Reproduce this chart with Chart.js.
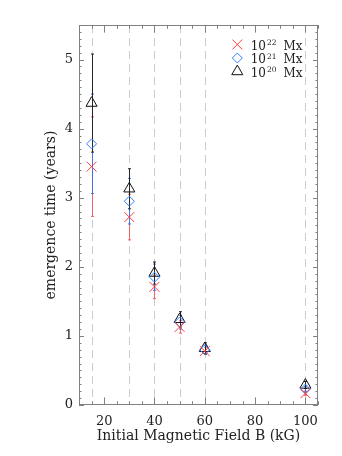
<!DOCTYPE html>
<html>
<head>
<meta charset="utf-8">
<script src="https://cdn.jsdelivr.net/npm/chart.js@4/dist/chart.umd.min.js"></script>
<style>
  html, body { margin: 0; padding: 0; background: #fff; }
</style>
</head>
<body>
<canvas id="chart" width="342" height="456"></canvas>
<script>
// initial magnetic field (kG) of each run
const fieldB = [15, 30, 40, 50, 60, 100];
// emergence time (years) and error for each flux
const time22 = [3.45, 2.72, 1.71, 1.13, 0.78, 0.17];
const err22  = [0.72, 0.33, 0.17, 0.09, 0.05, 0.03];
const time21 = [3.78, 2.95, 1.85, 1.20, 0.80, 0.23];
const err21  = [0.72, 0.33, 0.19, 0.10, 0.06, 0.04];
const time20 = [4.37, 3.13, 1.91, 1.24, 0.82, 0.29];
const err20  = [0.71, 0.29, 0.16, 0.11, 0.08, 0.05];
const fluxExp = ['22', '21', '20'];
const xTickVals = [20, 40, 60, 80, 100];
const yTickVals = [0, 1, 2, 3, 4, 5];

const FONT = '"DejaVu Serif", "Liberation Serif", serif';
const FRAME = '#808080';

function pts(vals) {
    return fieldB.map((b, i) => ({x: b, y: vals[i]}));
}

const decorPlugin = {
    id: 'decor',
    beforeDatasetsDraw(chart) {
        const {ctx, chartArea: a, scales: {x, y}} = chart;
        ctx.save();
        // dashed guide lines at each field value
        ctx.strokeStyle = '#cccccc';
        ctx.lineWidth = 1;
        ctx.setLineDash([8, 5]);
        fieldB.forEach(b => {
            const px = Math.round(x.getPixelForValue(b)) + 0.5;
            ctx.beginPath();
            ctx.moveTo(px, a.top);
            ctx.lineTo(px, a.bottom);
            ctx.stroke();
        });
        ctx.setLineDash([]);
        // error bars, red first so black ends on top
        chart.data.datasets.forEach(ds => {
            ctx.strokeStyle = ds.errColor;
            ds.data.forEach((p, j) => {
                const px = Math.round(x.getPixelForValue(p.x)) + 0.5;
                const top = y.getPixelForValue(p.y + ds.errors[j]);
                const bot = y.getPixelForValue(p.y - ds.errors[j]);
                ctx.beginPath();
                ctx.moveTo(px, top);
                ctx.lineTo(px, bot);
                ctx.moveTo(px - 1.5, top);
                ctx.lineTo(px + 1.5, top);
                ctx.moveTo(px - 1.5, bot);
                ctx.lineTo(px + 1.5, bot);
                ctx.stroke();
            });
        });
        ctx.restore();
    },
    afterDraw(chart) {
        const {ctx, chartArea: a, scales: {x, y}} = chart;
        ctx.save();
        // box frame
        ctx.strokeStyle = FRAME;
        ctx.lineWidth = 1;
        ctx.strokeRect(a.left + 0.5, a.top + 0.5, a.right - a.left - 1, a.bottom - a.top - 1);
        // inward ticks on all four sides
        ctx.beginPath();
        for (let v = 10; v <= 105; v += 5) {
            const px = Math.round(x.getPixelForValue(v)) + 0.5;
            const len = v % 20 === 0 ? 7.6 : 3.8;
            ctx.moveTo(px, a.bottom);
            ctx.lineTo(px, a.bottom - len);
            ctx.moveTo(px, a.top);
            ctx.lineTo(px, a.top + len);
        }
        for (let k = 0; k <= 55; k++) {
            const py = Math.round(y.getPixelForValue(k / 10)) + 0.5;
            const len = k % 10 === 0 ? 5 : 2.5;
            ctx.moveTo(a.left, py);
            ctx.lineTo(a.left + len, py);
            ctx.moveTo(a.right, py);
            ctx.lineTo(a.right - len, py);
        }
        ctx.stroke();

        // legend
        const mx = a.right - 80.7;
        chart.data.datasets.forEach((ds, i) => {
            const base = a.top + 24.5 + i * 13.5;
            ctx.strokeStyle = ds.borderColor;
            ctx.fillStyle = 'rgba(0,0,0,0)';
            ctx.lineWidth = 1;
            Chart.helpers.drawPoint(ctx, {
                pointStyle: ds.pointStyle, radius: ds.pointRadius, borderWidth: 1, rotation: 0
            }, mx, base - 5);
            ctx.fillStyle = '#222';
            ctx.textBaseline = 'alphabetic';
            ctx.textAlign = 'left';
            let tx = a.right - 67.3;
            ctx.font = '12px ' + FONT;
            ctx.fillText('10', tx, base);
            tx += ctx.measureText('10').width + 1;
            ctx.font = '7.5px ' + FONT;
            ctx.fillText(fluxExp[i], tx, base - 4.3);
            tx += ctx.measureText(fluxExp[i]).width + 7;
            ctx.font = '12px ' + FONT;
            ctx.fillText('Mx', tx, base);
        });
        ctx.restore();
    }
};

const ctx = document.getElementById('chart').getContext('2d');
const chart = new Chart(ctx, {
    type: 'scatter',
    data: {
        datasets: [{
            label: '10^22 Mx',
            data: pts(time22),
            errors: err22,
            errColor: '#f26464',
            borderColor: '#ff3838',
            backgroundColor: 'rgba(0,0,0,0)',
            pointStyle: 'crossRot',
            pointRadius: 7,
            pointBorderWidth: 1
        }, {
            label: '10^21 Mx',
            data: pts(time21),
            errors: err21,
            errColor: '#3f74e6',
            borderColor: '#2f80ff',
            backgroundColor: 'rgba(0,0,0,0)',
            pointStyle: 'rectRot',
            pointRadius: 5,
            pointBorderWidth: 1
        }, {
            label: '10^20 Mx',
            data: pts(time20),
            errors: err20,
            errColor: '#262626',
            borderColor: '#111111',
            backgroundColor: 'rgba(0,0,0,0)',
            pointStyle: 'triangle',
            pointRadius: 6.4,
            pointBorderWidth: 1
        }]
    },
    options: {
        responsive: false,
        animation: false,
        devicePixelRatio: 1,
        layout: {padding: {left: 0, right: 24, top: 25, bottom: 0}},
        plugins: {legend: {display: false}, tooltip: {enabled: false}},
        scales: {
            x: {
                type: 'linear',
                min: 10,
                max: 105,
                afterBuildTicks: s => { s.ticks = xTickVals.map(v => ({value: v})); },
                afterFit: s => { s.height = 51; },
                grid: {display: false, drawTicks: false},
                border: {display: false},
                ticks: {color: '#222', padding: 9, font: {family: FONT, size: 13}},
                title: {
                    display: true,
                    text: 'Initial Magnetic Field B (kG)',
                    color: '#222',
                    font: {family: FONT, size: 14},
                    padding: {top: 0, bottom: 11}
                }
            },
            y: {
                type: 'linear',
                min: 0,
                max: 5.5,
                afterBuildTicks: s => { s.ticks = yTickVals.map(v => ({value: v})); },
                afterFit: s => { s.width = 79; },
                grid: {display: false, drawTicks: false},
                border: {display: false},
                ticks: {color: '#222', padding: 6, font: {family: FONT, size: 13}},
                title: {
                    display: true,
                    text: 'emergence time (years)',
                    color: '#222',
                    font: {family: FONT, size: 14},
                    padding: {top: 43, bottom: 0}
                }
            }
        }
    },
    plugins: [decorPlugin]
});
</script>
</body>
</html>
